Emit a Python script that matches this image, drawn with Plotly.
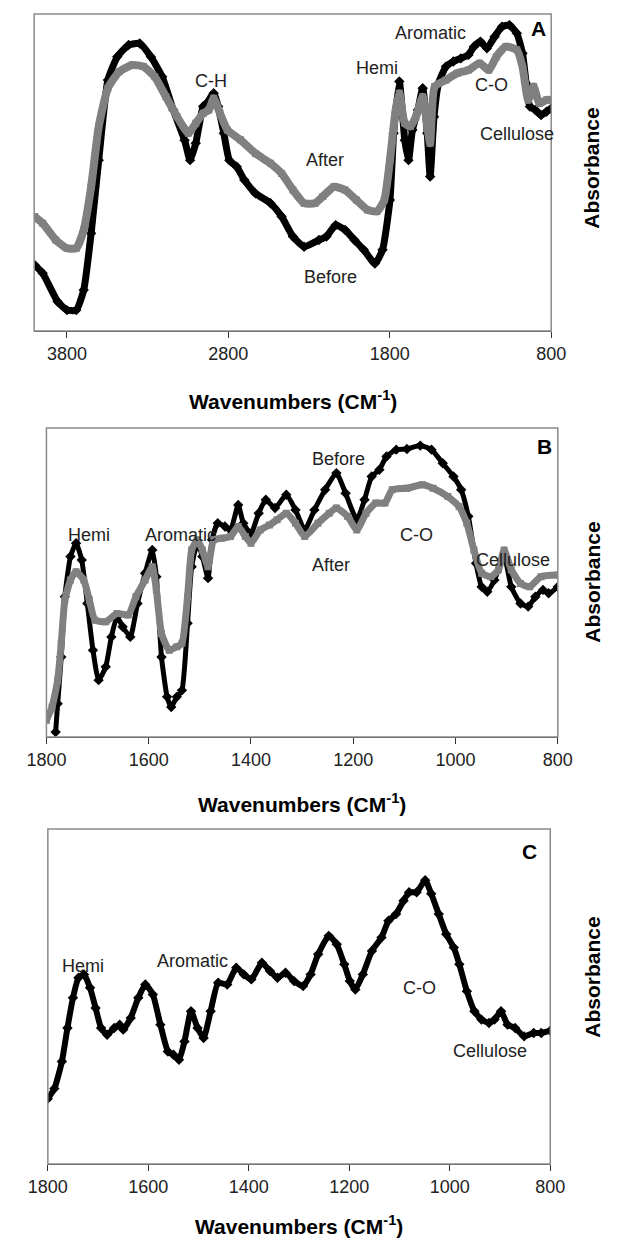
import plotly.graph_objects as go

# ---------------- Panel A (4000-800 cm-1) ----------------
a_wn_before = [4000, 3950, 3858, 3800, 3742, 3696, 3650, 3603, 3546, 3488, 3418, 3349, 3280, 3210,
               3141, 3071, 3037, 3002, 2956, 2933, 2891, 2863, 2828, 2794, 2748, 2701, 2632, 2539,
               2470, 2400, 2331, 2239, 2192, 2135, 2077, 2019, 1961, 1892, 1845, 1799, 1776, 1741,
               1707, 1684, 1660, 1626, 1596, 1568, 1550, 1526, 1498, 1452, 1406, 1360, 1313, 1279,
               1239, 1198, 1151, 1105, 1059, 1013, 978, 955, 932, 898, 863, 829, 800]
a_before = [0.208, 0.182, 0.093, 0.066, 0.066, 0.129, 0.308, 0.539, 0.792, 0.865, 0.902, 0.907,
            0.865, 0.802, 0.697, 0.602, 0.539, 0.592, 0.708, 0.719, 0.750, 0.708, 0.624, 0.539,
            0.518, 0.476, 0.434, 0.403, 0.361, 0.298, 0.266, 0.287, 0.298, 0.334, 0.319, 0.287,
            0.256, 0.213, 0.256, 0.413, 0.624, 0.787, 0.602, 0.539, 0.634, 0.697, 0.766, 0.624,
            0.487, 0.676, 0.781, 0.834, 0.850, 0.860, 0.871, 0.897, 0.913, 0.892, 0.928, 0.960,
            0.965, 0.939, 0.876, 0.781, 0.708, 0.697, 0.681, 0.692, 0.702]
a_wn_after = [4000, 3950, 3869, 3800, 3742, 3696, 3650, 3603, 3546, 3476, 3395, 3326, 3256, 3187,
              3118, 3048, 3002, 2956, 2921, 2891, 2852, 2806, 2725, 2632, 2539, 2470, 2400, 2331,
              2262, 2215, 2146, 2077, 2007, 1938, 1880, 1834, 1799, 1764, 1741, 1707, 1672, 1638,
              1596, 1568, 1550, 1522, 1452, 1383, 1313, 1244, 1186, 1140, 1082, 1013, 978, 943,
              909, 874, 829, 800]
a_after = [0.361, 0.340, 0.287, 0.261, 0.261, 0.319, 0.455, 0.645, 0.766, 0.818, 0.839, 0.834,
           0.802, 0.739, 0.676, 0.624, 0.655, 0.687, 0.697, 0.734, 0.687, 0.634, 0.603, 0.560,
           0.529, 0.497, 0.445, 0.403, 0.403, 0.424, 0.455, 0.445, 0.413, 0.382, 0.377, 0.413,
           0.539, 0.697, 0.750, 0.655, 0.645, 0.676, 0.739, 0.645, 0.592, 0.771, 0.792, 0.813,
           0.823, 0.845, 0.823, 0.865, 0.897, 0.887, 0.834, 0.729, 0.771, 0.718, 0.729, 0.729]
a_ticks = [3800, 2800, 1800, 800]

# ---------------- Panel B (1800-800 cm-1) ----------------
b_wn_before = [1782, 1778, 1771, 1764, 1753, 1742, 1731, 1720, 1709, 1698, 1684, 1673, 1662, 1651,
               1636, 1622, 1607, 1593, 1585, 1575, 1564, 1556, 1545, 1535, 1524, 1516, 1505, 1495,
               1484, 1476, 1465, 1451, 1440, 1425, 1415, 1400, 1385, 1371, 1353, 1331, 1313, 1295,
               1276, 1255, 1233, 1215, 1193, 1178, 1164, 1149, 1135, 1116, 1095, 1069, 1047, 1025,
               1004, 989, 975, 960, 949, 938, 924, 905, 891, 873, 858, 844, 829, 818, 800]
b_before = [0.016, 0.108, 0.259, 0.454, 0.584, 0.627, 0.573, 0.432, 0.281, 0.184, 0.227, 0.324,
            0.389, 0.357, 0.324, 0.432, 0.530, 0.605, 0.519, 0.259, 0.130, 0.097, 0.130, 0.151,
            0.368, 0.551, 0.627, 0.584, 0.514, 0.638, 0.692, 0.681, 0.670, 0.751, 0.692, 0.659,
            0.724, 0.768, 0.741, 0.784, 0.735, 0.670, 0.735, 0.800, 0.854, 0.789, 0.703, 0.768,
            0.843, 0.865, 0.908, 0.930, 0.932, 0.943, 0.930, 0.886, 0.843, 0.800, 0.714, 0.562,
            0.486, 0.470, 0.508, 0.584, 0.486, 0.432, 0.422, 0.454, 0.476, 0.465, 0.486]
b_wn_after = [1800, 1789, 1778, 1771, 1764, 1753, 1742, 1727, 1716, 1705, 1684, 1662, 1640, 1625,
              1607, 1593, 1585, 1575, 1560, 1545, 1535, 1524, 1516, 1505, 1495, 1484, 1473, 1458,
              1440, 1425, 1411, 1400, 1382, 1364, 1349, 1331, 1313, 1295, 1269, 1247, 1233, 1211,
              1193, 1175, 1156, 1138, 1124, 1095, 1065, 1044, 1015, 993, 978, 964, 949, 931, 916,
              905, 891, 873, 855, 833, 800]
b_after = [0.054, 0.097, 0.184, 0.303, 0.443, 0.508, 0.535, 0.508, 0.443, 0.378, 0.373, 0.400,
           0.395, 0.454, 0.508, 0.551, 0.476, 0.335, 0.281, 0.292, 0.303, 0.454, 0.605, 0.638,
           0.605, 0.551, 0.638, 0.643, 0.649, 0.681, 0.649, 0.627, 0.670, 0.686, 0.703, 0.724,
           0.692, 0.649, 0.692, 0.724, 0.741, 0.714, 0.670, 0.724, 0.757, 0.757, 0.800, 0.805,
           0.816, 0.805, 0.778, 0.746, 0.692, 0.605, 0.530, 0.519, 0.541, 0.605, 0.541, 0.497,
           0.486, 0.519, 0.524]

# ---------------- Panel C (1800-800 cm-1) ----------------
c_wn = [1800, 1787, 1772, 1761, 1750, 1739, 1728, 1716, 1705, 1694, 1682, 1668, 1657, 1650, 1635,
        1620, 1606, 1591, 1576, 1561, 1550, 1539, 1528, 1515, 1502, 1490, 1476, 1461, 1443, 1425,
        1410, 1395, 1374, 1358, 1343, 1327, 1310, 1292, 1277, 1262, 1241, 1225, 1210, 1199, 1188,
        1173, 1155, 1136, 1122, 1107, 1092, 1081, 1066, 1049, 1037, 1022, 1007, 992, 981, 966,
        951, 937, 922, 911, 898, 885, 870, 852, 833, 818, 800]
c_abs = [0.195, 0.225, 0.306, 0.406, 0.496, 0.556, 0.566, 0.526, 0.466, 0.406, 0.386, 0.406,
         0.416, 0.401, 0.436, 0.496, 0.536, 0.506, 0.416, 0.336, 0.326, 0.311, 0.366, 0.456,
         0.406, 0.376, 0.456, 0.541, 0.536, 0.586, 0.566, 0.551, 0.601, 0.576, 0.556, 0.571,
         0.546, 0.531, 0.566, 0.626, 0.681, 0.656, 0.596, 0.546, 0.521, 0.566, 0.636, 0.676,
         0.726, 0.746, 0.786, 0.811, 0.811, 0.847, 0.807, 0.746, 0.686, 0.646, 0.596, 0.516,
         0.456, 0.431, 0.421, 0.431, 0.456, 0.416, 0.406, 0.381, 0.391, 0.391, 0.398]
bc_ticks = [1800, 1600, 1400, 1200, 1000, 800]

# labels: (text, wavenumber, absorbance)
a_labels = [("Aromatic", 1545, 0.94), ("Hemi", 1880, 0.83), ("C-H", 2909, 0.79),
            ("C-O", 1170, 0.775), ("Cellulose", 1013, 0.62), ("After", 2204, 0.54),
            ("Before", 2169, 0.17)]
b_labels = [("Before", 1229, 0.90), ("Hemi", 1716, 0.655), ("Aromatic", 1538, 0.655),
            ("C-O", 1076, 0.655), ("After", 1244, 0.557), ("Cellulose", 887, 0.573)]
c_labels = [("Hemi", 1731, 0.59), ("Aromatic", 1512, 0.606), ("C-O", 1061, 0.526),
            ("Cellulose", 920, 0.336)]
panel_letters = [("A", 880, 0.955), ("B", 827, 0.94), ("C", 841, 0.932)]

FONT = "Liberation Sans, Arial, sans-serif"
W, H = 620, 1241

# pixel boxes of panels: (left, right, top, bottom)
boxes = [(15, 563, 14, 331), (28, 570, 428, 737), (29.5, 562, 829, 1164)]

fig = go.Figure()

BLACK = "#000000"
GRAY = "#808080"

def add_series(xs, ys, axis, color, symbol, lw, ms):
    fig.add_trace(go.Scatter(
        x=xs, y=ys, mode="lines+markers",
        line=dict(color=color, width=lw, shape="spline", smoothing=0.5),
        marker=dict(color=color, symbol=symbol, size=ms),
        xaxis="x" + axis, yaxis="y" + axis, showlegend=False, hoverinfo="skip"))

add_series(a_wn_before, a_before, "", BLACK, "diamond", 7, 8)
add_series(a_wn_after, a_after, "", GRAY, "square", 8, 7)
add_series(b_wn_before, b_before, "2", BLACK, "diamond", 5, 8)
add_series(b_wn_after, b_after, "2", GRAY, "square", 7, 7)
add_series(c_wn, c_abs, "3", BLACK, "diamond", 6, 8)

layout = dict(width=W, height=H, margin=dict(l=0, r=0, t=0, b=0),
              paper_bgcolor="white", plot_bgcolor="white",
              font=dict(family=FONT, color="#222222"))

ranges = [[4003, 800], [1800, 800], [1800, 800]]
tickvals = [a_ticks, bc_ticks, bc_ticks]
for i, (l, r, t, b) in enumerate(boxes):
    sfx = "" if i == 0 else str(i + 1)
    layout["xaxis" + sfx] = dict(
        domain=[l / W, r / W], range=ranges[i], anchor="y" + sfx,
        tickvals=tickvals[i], ticks="outside", ticklen=6, tickcolor="#333333",
        showline=True, linecolor="#333333", linewidth=1, showgrid=False, zeroline=False,
        tickfont=dict(size=18, color="#222222", family=FONT))
    layout["yaxis" + sfx] = dict(
        domain=[1 - b / H, 1 - t / H], range=[0, 1], anchor="x" + sfx,
        showticklabels=False, ticks="", showgrid=False, zeroline=False, showline=False)

fig.update_layout(**layout)

shapes = []
for (l, r, t, b) in boxes:
    shapes.append(dict(type="rect", xref="paper", yref="paper",
                       x0=l / W, x1=r / W, y0=1 - b / H, y1=1 - t / H,
                       line=dict(color="#8a8a8a", width=1.5), layer="above"))
fig.update_layout(shapes=shapes)

annotations = []
for i, labels in enumerate([a_labels, b_labels, c_labels]):
    sfx = "" if i == 0 else str(i + 1)
    for text, xv, yv in labels:
        annotations.append(dict(text=text, x=xv, y=yv, xref="x" + sfx, yref="y" + sfx,
                                showarrow=False, font=dict(size=18, color="#222222", family=FONT)))
for i, (text, xv, yv) in enumerate(panel_letters):
    sfx = "" if i == 0 else str(i + 1)
    annotations.append(dict(text="<b>" + text + "</b>", x=xv, y=yv, xref="x" + sfx,
                            yref="y" + sfx, showarrow=False,
                            font=dict(size=21, color="#000000", family=FONT)))

title_y = [400, 803, 1225]
absorb_y = [168, 582, 977]
for i in range(3):
    l, r, t, b = boxes[i]
    annotations.append(dict(text="<b>Wavenumbers (CM<sup>-1</sup>)</b>", x=(l + r) / 2 / W,
                            y=1 - title_y[i] / H, xref="paper", yref="paper",
                            showarrow=False, xanchor="center", yanchor="middle",
                            font=dict(size=21, color="#000000", family=FONT)))
    annotations.append(dict(text="<b>Absorbance</b>", x=606 / W, y=1 - absorb_y[i] / H,
                            xref="paper", yref="paper", textangle=-90, showarrow=False,
                            xanchor="center", yanchor="middle",
                            font=dict(size=21, color="#000000", family=FONT)))
fig.update_layout(annotations=annotations)

fig.write_html("out.html")
